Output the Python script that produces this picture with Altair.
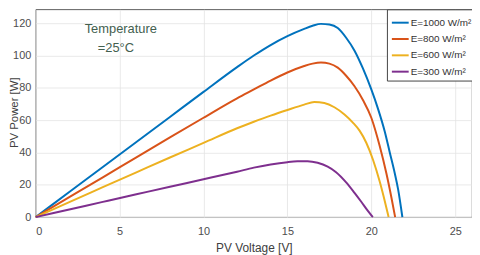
import altair as alt
import pandas as pd

# Series (PV voltage [V], PV power [W])
v_1000 = [0, 2, 4, 6, 8, 10, 12, 13, 14, 15, 16, 16.5, 17, 17.5, 18, 18.5, 19, 19.5, 20, 20.4, 20.8, 21.1, 21.4, 21.6, 21.85]
p_1000 = [0, 15.5, 31, 46.5, 62, 77.5, 92.8, 100, 106.5, 112, 116.5, 118.4, 119.6, 119.2, 117, 111, 103, 92, 79, 67, 53, 40, 27, 17, 0]

v_800 = [0, 2, 4, 6, 8, 10, 12, 13, 14, 15, 16, 16.5, 17, 17.5, 18, 18.5, 19, 19.5, 20, 20.5, 20.9, 21.2, 21.42]
p_800 = [0, 12.3, 24.6, 37, 49.3, 61.5, 73.5, 79, 84.5, 89.5, 93.5, 95, 95.7, 95, 92.5, 87.5, 81, 72.5, 61.5, 44, 27, 12, 0]

v_600 = [0, 2, 4, 6, 8, 10, 12, 13, 14, 15, 16, 16.6, 17.2, 17.8, 18.4, 18.9, 19.3, 19.7, 20.1, 20.5, 20.8, 21.03]
p_600 = [0, 9.3, 18.5, 27.7, 36.9, 45.9, 55, 59, 62.8, 66.3, 69.6, 71.2, 70.6, 68, 63.5, 58.5, 53.5, 46, 35.5, 22, 10, 0]

v_300 = [0, 2, 4, 6, 8, 10, 12, 13, 14, 15, 15.6, 16.2, 16.8, 17.4, 17.9, 18.5, 19.0, 19.4, 19.75, 20.09]
p_300 = [0, 4.7, 9.4, 14.1, 18.8, 23.4, 28.1, 30.6, 32.6, 34, 34.5, 34.6, 33.6, 31.2, 27.8, 21.5, 15, 9.5, 4.5, 0]

series_names = ["E=1000 W/m²", "E=800 W/m²", "E=600 W/m²", "E=300 W/m²"]
series_colors = ["#0072BD", "#D95319", "#EDB120", "#7E2F8E"]

x_ticks = [0, 5, 10, 15, 20, 25]
y_ticks = [0, 20, 40, 60, 80, 100, 120]

note_lines = ["Temperature", "=25°C"]
note_v = [5.07, 4.78]
note_p = [116.3, 104.7]

rows = []
for name, vs, ps in zip(series_names, [v_1000, v_800, v_600, v_300], [p_1000, p_800, p_600, p_300]):
    for v, p in zip(vs, ps):
        rows.append({"V": v, "P": p, "series": name})
df = pd.DataFrame(rows)

notes = pd.DataFrame({"V": note_v, "P": note_p, "text": note_lines})

FONT = "Liberation Sans"

x_enc = alt.X(
    "V:Q",
    scale=alt.Scale(domain=[0, 26], nice=False),
    axis=alt.Axis(values=x_ticks, title="PV Voltage [V]", format="d",
                  labelPadding=9, titlePadding=6, labelOverlap=False),
)
y_enc = alt.Y(
    "P:Q",
    scale=alt.Scale(domain=[0, 128.6], nice=False),
    axis=alt.Axis(values=y_ticks, title="PV Power [W]", format="d",
                  labelPadding=5, labelOverlap=False,
                  titleX=-27, titleY=104, titleAngle=270, titleFontSize=11.5,
                  titleAlign="center", titleBaseline="top"),
)

lines = alt.Chart(df).mark_line(strokeWidth=2, interpolate="monotone").encode(
    x=x_enc,
    y=y_enc,
    color=alt.Color(
        "series:N",
        scale=alt.Scale(domain=series_names, range=series_colors),
        sort=series_names,
        legend=alt.Legend(
            title=None, orient="none", legendX=355, legendY=0,
            symbolType="stroke", symbolSize=289, symbolStrokeWidth=2,
            labelFontSize=10, labelColor="#333333", labelFont=FONT,
            labelOffset=1, rowPadding=1.5, padding=4,
            strokeColor="#444444", fillColor="white",
        ),
    ),
    order=alt.Order("V:Q"),
)

text = alt.Chart(notes).mark_text(
    fontSize=13, font=FONT, color="#43604f", align="center", baseline="middle"
).encode(x=x_enc, y=y_enc, text="text:N")

chart = (
    alt.layer(lines, text)
    .properties(
        width=441, height=210,
        padding={"left": 28, "top": 0, "right": 0, "bottom": 40},
        autosize=alt.AutoSizeParams(type="none"),
    )
    .configure_view(stroke="#333333", strokeWidth=0.8)
    .configure_axis(
        domain=False, ticks=False,
        grid=True, gridColor="#e3e3e3", gridWidth=0.8,
        labelFont=FONT, labelFontSize=11, labelColor="#4d4d4d",
        titleFont=FONT, titleFontSize=12, titleFontWeight="normal", titleColor="#404040",
    )
)

chart.save("out.html", embed_options={"renderer": "svg", "actions": False})
